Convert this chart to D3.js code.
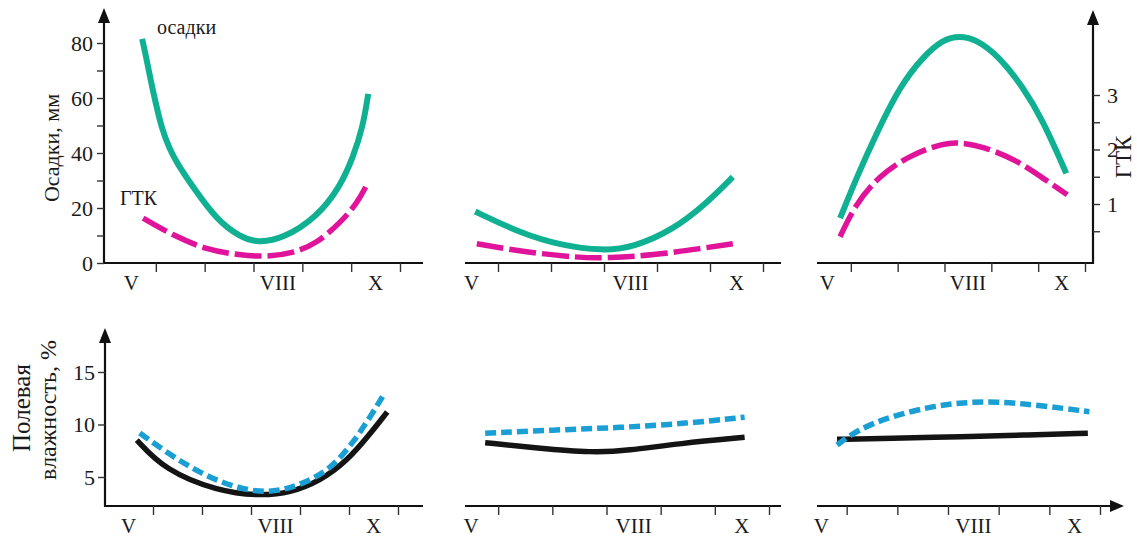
<!DOCTYPE html>
<html><head><meta charset="utf-8">
<script src="https://cdn.jsdelivr.net/npm/d3@7"></script>
<style>
body{margin:0;background:#fff}
svg text{font-family:"Liberation Serif","Times New Roman",serif;fill:#1a1a1a}
</style>
</head><body>
<svg id="c" width="1137" height="540"></svg>
<script>
// ---- data ----
const monthLabels = ["V", "VIII", "X"];
const monthPos = [5, 8, 10];
const monthBounds = [5.5, 6.5, 7.5, 8.5, 9.5, 10.5];
const precipTicks = [0, 20, 40, 60, 80];
const precipMinor = [10, 30, 50, 70];
const gtkTicks = [1, 2, 3];
const gtkMinor = [0.5, 1.5, 2.5];
const moistTicks = [5, 10, 15];

// precipitation, mm  [month, value]
const precip1 = [[5.22,81.5],[5.30,75.0],[5.40,66.0],[5.50,58.0],[5.62,49.0],[5.78,41.5],[5.93,36.4],[6.26,27.6],[6.75,15.6],[7.22,9.5],[7.59,7.3],[8.10,8.8],[8.80,16.7],[9.27,27.6],[9.54,38.5],[9.74,49.5],[9.85,61.5]];
const precip2 = [[5.07,18.7],[5.92,10.9],[6.67,6.5],[7.48,4.4],[8.05,5.7],[8.80,12.0],[9.44,21.8],[9.93,31.3]];
const precip3 = [[5.27,16.3],[5.63,31.4],[6.05,47.2],[6.54,64.1],[7.04,75.0],[7.47,81.3],[7.82,82.6],[8.18,81.3],[8.67,75.0],[9.17,64.1],[9.60,52.0],[10.10,32.6]];
// hydrothermal coefficient ГТК
const gtk1 = [[5.24,0.74],[5.86,0.42],[6.54,0.16],[7.22,0.06],[7.77,0.03],[8.32,0.10],[8.80,0.28],[9.27,0.65],[9.62,1.01],[9.82,1.35]];
const gtk2 = [[5.10,0.27],[5.92,0.13],[7.05,0.01],[7.56,0.01],[8.42,0.06],[9.37,0.19],[9.93,0.27]];
const gtk3 = [[5.27,0.40],[5.59,0.98],[6.08,1.50],[6.76,1.90],[7.50,2.12],[7.82,2.13],[8.31,2.06],[9.03,1.81],[9.66,1.44],[10.12,1.17]];
// field moisture, %
const moistSolid1 = [[5.17,8.52],[5.74,5.67],[6.81,3.67],[7.68,3.2],[8.30,3.5],[8.91,4.62],[9.46,6.52],[9.93,9.1],[10.28,11.19]];
const moistDash1 = [[5.23,9.19],[5.85,7.1],[6.46,5.38],[7.13,4.05],[7.83,3.4],[8.5,4.2],[9.11,5.67],[9.58,8.24],[9.93,10.7],[10.23,13.0]];
const moistSolid2 = [[5.26,8.27],[6.22,7.76],[7.25,7.31],[7.88,7.5],[8.85,8.2],[10.05,8.78]];
const moistDash2 = [[5.26,9.16],[6.51,9.48],[7.75,9.7],[8.98,10.1],[10.05,10.7]];
const moistSolid3 = [[5.31,8.59],[6.35,8.69],[7.79,8.84],[8.98,9.0],[10.26,9.16]];
const moistDash3 = [[5.31,8.05],[5.71,9.48],[6.35,10.74],[7.15,11.7],[7.79,12.1],[8.46,12.2],[9.25,11.86],[10.29,11.22]];

// ---- styles ----
const GREEN = "#10b193", MAGENTA = "#e0149b", BLUE = "#1a9fd5", BLACK = "#141414";
const SERIF = '"Liberation Serif","Times New Roman",serif';
const styles = {
  green:   {stroke: GREEN, width: 6, dash: null},
  magenta: {stroke: MAGENTA, width: 5.5, dash: "27,6"},
  black:   {stroke: BLACK, width: 5.5, dash: null},
  blue:    {stroke: BLUE, width: 5.5, dash: "11,5"}
};

const svg = d3.select("#c");

const yPrecip = d3.scaleLinear().domain([0, 80]).range([263, 43]);
const yGtk = d3.scaleLinear().domain([1, 3]).range([204, 95]);
const yMoist = d3.scaleLinear().domain([5, 15]).range([477, 372]);

const TOP_BASE = 263, BOT_BASE = 506;

const panels = [
  {range:[107,400], line:[104,423], base:TOP_BASE, labelY:290, series:[[precip1,yPrecip,"green"],[gtk1,yGtk,"magenta"]]},
  {range:[445,763], line:[465,781], base:TOP_BASE, labelY:290, series:[[precip2,yPrecip,"green"],[gtk2,yGtk,"magenta"]]},
  {range:[804,1085], line:[817,1094], base:TOP_BASE, labelY:290, series:[[precip3,yPrecip,"green"],[gtk3,yGtk,"magenta"]]},
  {range:[104,398], line:[105,423], base:BOT_BASE, labelY:533, series:[[moistSolid1,yMoist,"black"],[moistDash1,yMoist,"blue"]]},
  {range:[444,769], line:[465,781], base:BOT_BASE, labelY:533, series:[[moistSolid2,yMoist,"black"],[moistDash2,yMoist,"blue"]]},
  {range:[796,1100], line:[817,1112], base:BOT_BASE, labelY:533, arrow:true, series:[[moistSolid3,yMoist,"black"],[moistDash3,yMoist,"blue"]]}
];

panels.forEach(p => {
  const x = d3.scaleLinear().domain([4.5, 10.5]).range(p.range);
  p.series.forEach(([pts, ys, st]) => {
    const s = styles[st];
    const line = d3.line().x(d => x(d[0])).y(d => ys(d[1])).curve(d3.curveBasis);
    svg.append("path").attr("d", line(pts)).attr("fill", "none")
      .attr("stroke", s.stroke).attr("stroke-width", s.width)
      .attr("stroke-dasharray", s.dash).attr("stroke-linecap", "butt");
  });
  svg.append("line").attr("x1", p.line[0]).attr("x2", p.line[1])
    .attr("y1", p.base).attr("y2", p.base).attr("stroke", "#111").attr("stroke-width", 2.2);
  if (p.arrow) {
    const xe = p.line[1];
    svg.append("path").attr("d", `M${xe+12},${p.base} L${xe-2},${p.base-6} L${xe-2},${p.base+6} Z`).attr("fill", "#111");
  }
  const ax = d3.axisBottom(x).tickValues(monthBounds).tickSize(9).tickFormat("");
  const g = svg.append("g").attr("transform", `translate(0,${p.base})`).call(ax);
  g.select(".domain").remove();
  g.selectAll(".tick line").attr("stroke", "#333").attr("stroke-width", 1.4);
  monthLabels.forEach((m, i) => {
    svg.append("text").attr("x", x(monthPos[i])).attr("y", p.labelY)
      .attr("text-anchor", "middle").attr("font-size", 21).attr("font-family", SERIF).text(m);
  });
});

function vAxisLine(xp, yBottom, yTip) {
  svg.append("line").attr("x1", xp).attr("x2", xp).attr("y1", yBottom + 1).attr("y2", yTip + 10)
    .attr("stroke", "#111").attr("stroke-width", 2.2);
  svg.append("path").attr("d", `M${xp},${yTip} L${xp-6},${yTip+15} L${xp+6},${yTip+15} Z`).attr("fill", "#111");
}

function styleAxis(g, fs) {
  g.attr("font-family", SERIF).attr("font-size", fs);
  g.select(".domain").remove();
  g.selectAll(".tick line").attr("stroke", "#333").attr("stroke-width", 1.4);
  g.selectAll(".tick text").attr("font-size", fs).attr("fill", "#1a1a1a").attr("font-family", SERIF);
}

vAxisLine(104, TOP_BASE, 8);
let g1 = svg.append("g").attr("transform", "translate(104,0)")
  .call(d3.axisLeft(yPrecip).tickValues(precipTicks).tickSize(7).tickPadding(4).tickFormat(d3.format("d")));
styleAxis(g1, 22);
let g1m = svg.append("g").attr("transform", "translate(104,0)")
  .call(d3.axisLeft(yPrecip).tickValues(precipMinor).tickSize(7).tickFormat(""));
styleAxis(g1m, 22);

vAxisLine(1093, TOP_BASE, 10);
let g2 = svg.append("g").attr("transform", "translate(1093,0)")
  .call(d3.axisRight(yGtk).tickValues(gtkTicks).tickSize(7).tickPadding(7).tickFormat(d3.format("d")));
styleAxis(g2, 22);
let g2m = svg.append("g").attr("transform", "translate(1093,0)")
  .call(d3.axisRight(yGtk).tickValues(gtkMinor).tickSize(7).tickFormat(""));
styleAxis(g2m, 22);

vAxisLine(105, BOT_BASE, 328);
let g3 = svg.append("g").attr("transform", "translate(105,0)")
  .call(d3.axisLeft(yMoist).tickValues(moistTicks).tickSize(7).tickPadding(3).tickFormat(d3.format("d")));
styleAxis(g3, 22);

function label(txt, transform, size, anchor) {
  svg.append("text").attr("transform", transform).attr("text-anchor", anchor || "start")
    .attr("font-size", size).attr("font-family", SERIF).text(txt);
}
label("осадки", "translate(157,34)", 20);
label("ГТК", "translate(120,205)", 20);
label("Осадки, мм", "translate(59,148) rotate(-90)", 22, "middle");
label("ГТК", "translate(1131,157) rotate(-90)", 23, "middle");
label("Полевая", "translate(30,408) rotate(-90)", 25, "middle");
label("влажность, %", "translate(56,410) rotate(-90)", 24, "middle");
</script>
</body></html>
